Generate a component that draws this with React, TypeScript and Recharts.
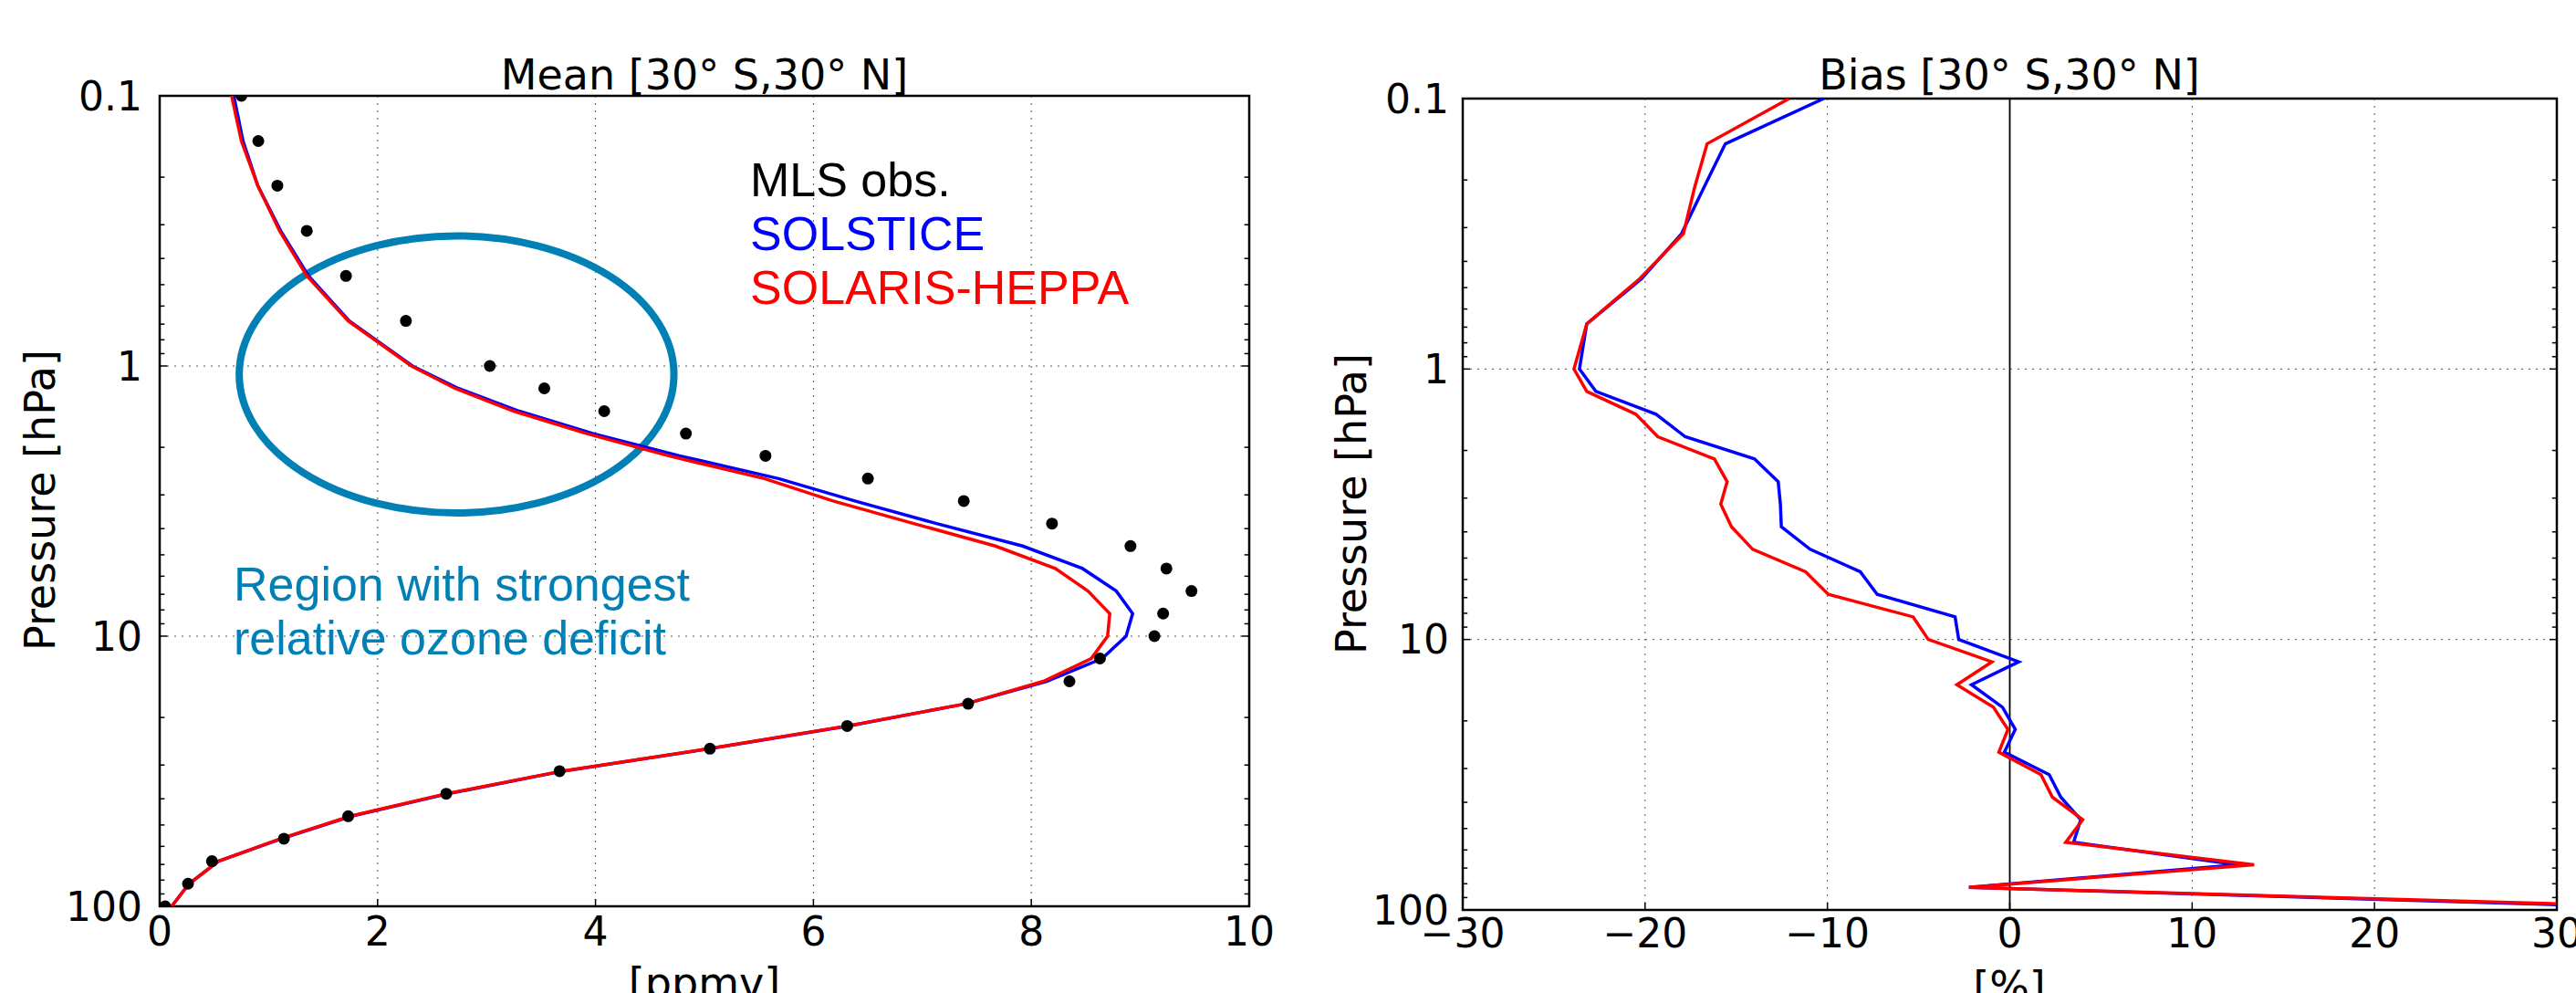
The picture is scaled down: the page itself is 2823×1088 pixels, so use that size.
import {
  LineChart,
  Line,
  XAxis,
  YAxis,
  CartesianGrid,
  ReferenceArea,
  ReferenceLine,
} from 'recharts';

// MLS pressure grid (hPa), top to bottom
const PRESSURE = [
  0.1, 0.147, 0.215, 0.316, 0.464, 0.681, 1, 1.21, 1.47, 1.78, 2.15, 2.61, 3.16, 3.83, 4.64, 5.62,
  6.81, 8.25, 10, 12.1, 14.7, 17.8, 21.5, 26.1, 31.6, 38.3, 46.4, 56.2, 68.1, 82.5, 100,
];

// ozone mean [ppmv]
const MLS_OBS = [
  0.75, 0.905, 1.08, 1.35, 1.71, 2.26, 3.03, 3.53, 4.08, 4.83, 5.56, 6.5, 7.38, 8.19, 8.91, 9.24,
  9.47, 9.21, 9.13, 8.63, 8.35, 7.42, 6.31, 5.05, 3.67, 2.63, 1.73, 1.14, 0.48, 0.26, 0.05,
];
const SOLSTICE_PPMV = [
  0.68, 0.765, 0.9, 1.11, 1.365, 1.74, 2.32, 2.74, 3.3, 3.98, 4.77, 5.68, 6.38, 7.13, 7.92, 8.47,
  8.78, 8.93, 8.87, 8.65, 8.14, 7.4, 6.32, 5.05, 3.7, 2.65, 1.76, 1.12, 0.54, 0.27, 0.11,
];
const SOLARIS_PPMV = [
  0.66, 0.75, 0.9, 1.1, 1.35, 1.73, 2.31, 2.71, 3.25, 3.92, 4.67, 5.55, 6.18, 6.92, 7.67, 8.22,
  8.52, 8.72, 8.7, 8.55, 8.11, 7.4, 6.31, 5.04, 3.69, 2.63, 1.75, 1.11, 0.54, 0.27, 0.11,
];

// bias [%]
const SOLSTICE_BIAS = [
  -10.2, -15.6, -16.8, -18.0, -20.2, -23.2, -23.6, -22.7, -19.4, -17.8, -14.0, -12.7, -12.58,
  -12.53, -10.95, -8.2, -7.27, -3.0, -2.8, 0.49, -2.1, -0.4, 0.3, -0.3, 2.16, 2.8, 3.89, 3.5, 12.5,
  -2.24, 40,
];
const SOLARIS_BIAS = [
  -12.1, -16.6, -17.3, -17.9, -20.3, -23.2, -23.9, -23.2, -20.5, -19.3, -16.2, -15.5, -15.85,
  -15.26, -14.1, -11.2, -9.95, -5.3, -4.47, -0.98, -2.9, -0.9, -0.1, -0.6, 1.71, 2.34, 4.0, 3.07,
  13.4, -2.24, 42,
];

const P_TICKS = [0.1, 1, 10, 100];
const P_MINOR = [0.1, 1, 10].flatMap((d) => [2, 3, 4, 5, 6, 7, 8, 9].map((m) => +(d * m).toFixed(2)));
const MEAN_TICKS = [0, 2, 4, 6, 8, 10];
const BIAS_TICKS = [-30, -20, -10, 0, 10, 20, 30];

// region outline (ppmv / hPa)
const DEFICIT_X = [0.73, 4.72];
const DEFICIT_P = [0.33, 3.5];

const TEAL = '#0080b4';
const FONT = 'DejaVu Sans';
const SANS = 'Liberation Sans, Arial, sans-serif';

const meanRows = PRESSURE.map((p, i) => ({
  p,
  mls: MLS_OBS[i],
  solstice: SOLSTICE_PPMV[i],
  solaris: SOLARIS_PPMV[i],
}));

const biasRows = PRESSURE.map((p, i) => ({
  p,
  solstice: SOLSTICE_BIAS[i],
  solaris: SOLARIS_BIAS[i],
}));

const tickStyle = { fontSize: 44, fill: '#000', fontFamily: FONT };
const minus = (v: number) => (v < 0 ? `\u2212${Math.abs(v)}` : `${v}`);

// inward tick marks on the left and right spines
function spineTicks(xMin: number, xMax: number, major: number, minor: number) {
  const out = [];
  for (const p of P_TICKS.slice(1, -1)) {
    out.push(
      <ReferenceLine key={`ml${p}`} segment={[{ x: xMin, y: p }, { x: xMin + major, y: p }]} stroke="#000" strokeWidth={1.5} />,
      <ReferenceLine key={`mr${p}`} segment={[{ x: xMax - major, y: p }, { x: xMax, y: p }]} stroke="#000" strokeWidth={1.5} />,
    );
  }
  for (const p of P_MINOR) {
    out.push(
      <ReferenceLine key={`nl${p}`} segment={[{ x: xMin, y: p }, { x: xMin + minor, y: p }]} stroke="#000" strokeWidth={1.5} />,
      <ReferenceLine key={`nr${p}`} segment={[{ x: xMax - minor, y: p }, { x: xMax, y: p }]} stroke="#000" strokeWidth={1.5} />,
    );
  }
  return out;
}

function MeanPanel() {
  return (
    <LineChart
      layout="vertical"
      width={1400}
      height={1088}
      data={meanRows}
      margin={{ top: 105, right: 31, bottom: 0, left: 0 }}
    >
      <CartesianGrid stroke="#555" strokeDasharray="2 6" />
      <XAxis
        type="number"
        domain={[0, 10]}
        ticks={MEAN_TICKS}
        interval={0}
        height={95}
        axisLine={false}
        tickSize={-8}
        tickMargin={20}
        tickLine={{ stroke: '#000', strokeWidth: 1.5 }}
        tick={tickStyle}
      />
      <YAxis
        type="number"
        dataKey="p"
        scale="log"
        domain={[0.1, 100]}
        allowDataOverflow
        ticks={P_TICKS}
        interval={0}
        width={175}
        axisLine={false}
        tickLine={false}
        tickMargin={13}
        tick={tickStyle}
      />
      {spineTicks(0, 10, 0.07, 0.045)}
      <ReferenceArea
        x1={DEFICIT_X[0]}
        x2={DEFICIT_X[1]}
        y1={DEFICIT_P[0]}
        y2={DEFICIT_P[1]}
        shape={(props: any) => (
          <ellipse
            cx={props.x + props.width / 2}
            cy={props.y + props.height / 2}
            rx={props.width / 2}
            ry={props.height / 2}
            fill="none"
            stroke={TEAL}
            strokeWidth={8}
          />
        )}
      />
      <Line
        dataKey="mls"
        stroke="none"
        dot={{ r: 6.5, fill: '#000', stroke: 'none' }}
        isAnimationActive={false}
      />
      <Line dataKey="solstice" type="linear" stroke="#0000ff" strokeWidth={3.5} dot={false} isAnimationActive={false} />
      <Line dataKey="solaris" type="linear" stroke="#ff0000" strokeWidth={3.5} dot={false} isAnimationActive={false} />
      <ReferenceArea x1={0} x2={10} y1={0.1} y2={100} fill="none" stroke="#000" strokeWidth={2.5} />
    </LineChart>
  );
}

function BiasPanel() {
  return (
    <LineChart
      layout="vertical"
      width={1423}
      height={1088}
      data={biasRows}
      margin={{ top: 108, right: 21, bottom: 0, left: 0 }}
    >
      <CartesianGrid stroke="#555" strokeDasharray="2 6" />
      <XAxis
        type="number"
        domain={[-30, 30]}
        allowDataOverflow
        ticks={BIAS_TICKS}
        interval={0}
        height={91}
        axisLine={false}
        tickSize={-8}
        tickMargin={18}
        tickLine={{ stroke: '#000', strokeWidth: 1.5 }}
        tick={tickStyle}
        tickFormatter={minus}
      />
      <YAxis
        type="number"
        dataKey="p"
        scale="log"
        domain={[0.1, 100]}
        allowDataOverflow
        ticks={P_TICKS}
        interval={0}
        width={203}
        axisLine={false}
        tickLine={false}
        tickMargin={9}
        tick={tickStyle}
      />
      {spineTicks(-30, 30, 0.4, 0.26)}
      <ReferenceLine x={0} stroke="#000" strokeWidth={1.8} />
      <Line dataKey="solstice" type="linear" stroke="#0000ff" strokeWidth={3.5} dot={false} isAnimationActive={false} />
      <Line dataKey="solaris" type="linear" stroke="#ff0000" strokeWidth={3.5} dot={false} isAnimationActive={false} />
      <ReferenceArea x1={-30} x2={30} y1={0.1} y2={100} fill="none" stroke="#000" strokeWidth={2.5} />
    </LineChart>
  );
}

function Labels() {
  return (
    <svg
      width={2823}
      height={1088}
      style={{ position: 'absolute', left: 0, top: 0, pointerEvents: 'none' }}
    >
      <g fontFamily={FONT} fontSize={46} fill="#000" textAnchor="middle">
        <text x={772} y={98}>Mean [30° S,30° N]</text>
        <text x={2202} y={98}>Bias [30° S,30° N]</text>
        <text x={772} y={1093}>[ppmv]</text>
        <text x={2202} y={1097}>[%]</text>
        <text transform="translate(60,548) rotate(-90)">Pressure [hPa]</text>
        <text transform="translate(1497,552) rotate(-90)">Pressure [hPa]</text>
      </g>
      <g fontFamily={SANS} fontSize={52}>
        <text x={822} y={215} fill="#000">MLS obs.</text>
        <text x={822} y={274} fill="#0000ff">SOLSTICE</text>
        <text x={822} y={333} fill="#ff0000">SOLARIS-HEPPA</text>
        <text x={256} y={658} fill={TEAL}>Region with strongest</text>
        <text x={256} y={717} fill={TEAL}>relative ozone deficit</text>
      </g>
    </svg>
  );
}

export default function App() {
  return (
    <div style={{ position: 'absolute', left: 0, top: 0, width: 2823, height: 1088, background: '#fff', overflow: 'hidden' }}>
      <div style={{ position: 'absolute', left: 0, top: 0 }}>
        <MeanPanel />
      </div>
      <div style={{ position: 'absolute', left: 1400, top: 0 }}>
        <BiasPanel />
      </div>
      <Labels />
    </div>
  );
}
